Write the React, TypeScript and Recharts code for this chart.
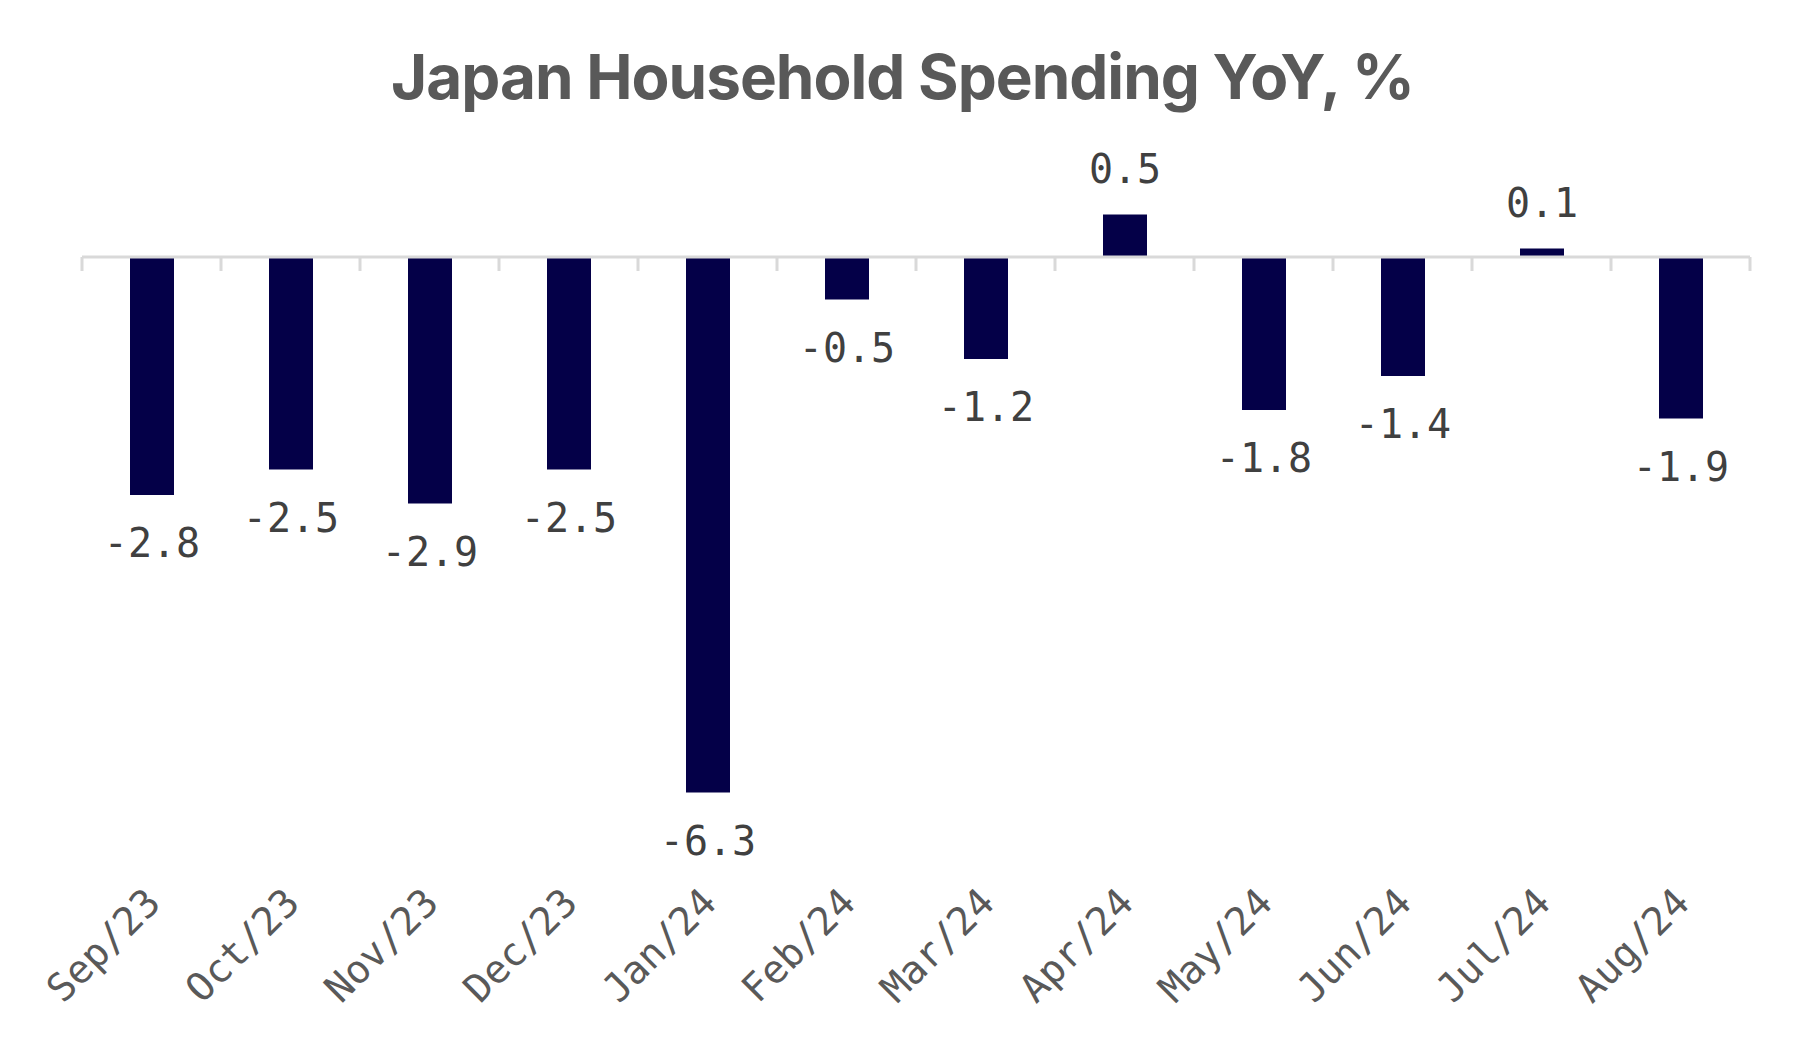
import { Bar, BarChart, LabelList, ReferenceLine, XAxis, YAxis } from "recharts";

const months = [
  "Sep/23",
  "Oct/23",
  "Nov/23",
  "Dec/23",
  "Jan/24",
  "Feb/24",
  "Mar/24",
  "Apr/24",
  "May/24",
  "Jun/24",
  "Jul/24",
  "Aug/24",
];
const spendingYoY = [-2.8, -2.5, -2.9, -2.5, -6.3, -0.5, -1.2, 0.5, -1.8, -1.4, 0.1, -1.9];
// how far the separator ticks hang below the zero line, in % points
const tickDepth = -0.165;

const data = months.map((month, i) => ({ month, value: spendingYoY[i] }));

const MONO = "'DejaVu Sans Mono', 'Liberation Mono', monospace";

const MonthTick = ({ x, y, payload }: any) => (
  <g transform={`translate(${Number(x) + 11},${Number(y) + 53})`}>
    <text
      textAnchor="end"
      transform="rotate(-45)"
      fontFamily={MONO}
      fontSize={39}
      fill="#595959"
    >
      {payload.value}
    </text>
  </g>
);

const ValueLabel = (props: any) => {
  const x = Number(props.x);
  const y = Number(props.y);
  const w = Number(props.width);
  const h = Number(props.height);
  const value = Number(props.value);
  const top = Math.min(y, y + h);
  const bottom = Math.max(y, y + h);
  const ty = value >= 0 ? top - 32 : bottom + 62;
  return (
    <text
      x={x + w / 2}
      y={ty}
      textAnchor="middle"
      fontFamily={MONO}
      fontSize={40}
      fill="#404040"
    >
      {value.toFixed(1)}
    </text>
  );
};

export default function App() {
  const last = months[months.length - 1];
  return (
    <div
      style={{
        position: "absolute",
        left: 0,
        top: 0,
        width: 1805,
        height: 1058,
        background: "#ffffff",
      }}
    >
      <div
        style={{
          position: "absolute",
          left: 0,
          top: 46,
          width: 1805,
          textAlign: "center",
          fontFamily: "Inter, Roboto, sans-serif",
          fontWeight: 700,
          fontSize: 62,
          lineHeight: "62px",
          letterSpacing: -1,
          color: "#595959",
        }}
      >
        Japan Household Spending YoY, %
      </div>
      <BarChart
        width={1805}
        height={1058}
        data={data}
        margin={{ top: 172, right: 55, bottom: 56, left: 82 }}
      >
        <XAxis
          dataKey="month"
          height={150}
          axisLine={false}
          tickLine={false}
          tickSize={0}
          tickMargin={0}
          interval={0}
          tick={<MonthTick />}
        />
        <YAxis hide domain={[-7, 1]} allowDataOverflow />
        <Bar dataKey="value" fill="#040048" barSize={44} isAnimationActive={false}>
          <LabelList dataKey="value" content={<ValueLabel />} />
        </Bar>
        <ReferenceLine y={0} stroke="#d9d9d9" strokeWidth={3} />
        {months.map((m) => (
          <ReferenceLine
            key={m}
            position="start"
            segment={[
              { x: m, y: 0 },
              { x: m, y: tickDepth },
            ]}
            stroke="#d9d9d9"
            strokeWidth={3}
          />
        ))}
        <ReferenceLine
          position="end"
          segment={[
            { x: last, y: 0 },
            { x: last, y: tickDepth },
          ]}
          stroke="#d9d9d9"
          strokeWidth={3}
        />
      </BarChart>
    </div>
  );
}
